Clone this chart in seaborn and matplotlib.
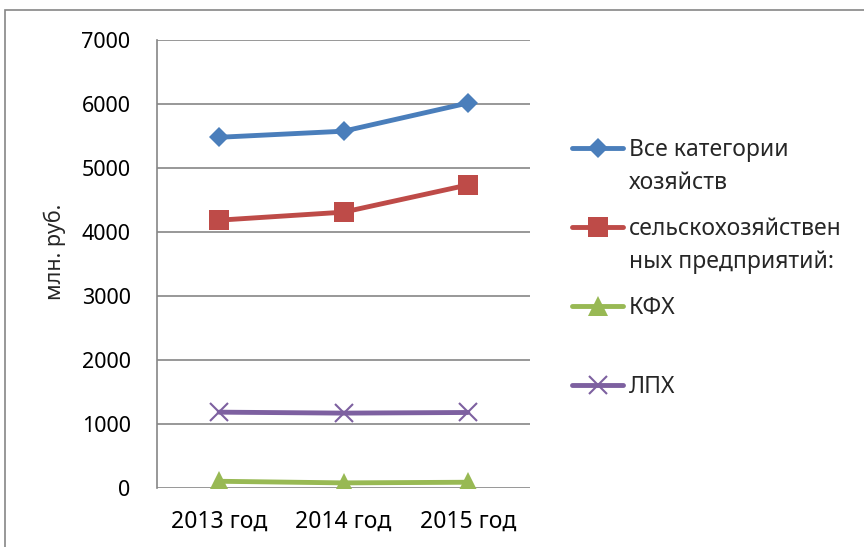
import numpy as np
import pandas as pd
import seaborn as sns
import matplotlib.pyplot as plt
from matplotlib.patches import Rectangle

years = ['2013 год', '2014 год', '2015 год']
vse = [5480, 5575, 6015]
selhoz = [4185, 4310, 4735]
kfh = [105, 80, 90]
lph = [1185, 1170, 1180]

labels = ['Все категории', 'сельскохозяйствен', 'КФХ', 'ЛПХ']
second_lines = ['хозяйств', 'ных предприятий:', '', '']
colors = ['#4A7EBB', '#BE4B48', '#98B954', '#7D60A0']
markers = ['D', 's', '^', 'x']
msizes = [10, 14, 14, 13]

sns.set_style('white')
plt.rcParams['font.family'] = ['Noto Sans', 'DejaVu Sans']

fig = plt.figure(figsize=(8.64, 5.47), dpi=100)
ax = fig.add_axes([157/864, 59/547, 373/864, 448/547])

fig.patches.append(Rectangle((5/864, -0.2), 1.2, 0.2 + 537/547, transform=fig.transFigure,
                             fill=False, edgecolor='#868686', linewidth=1.2, zorder=-1))

for vals, lab, col, mk, ms in zip([vse, selhoz, kfh, lph], labels, colors, markers, msizes):
    df = pd.DataFrame({'year': years, 'value': vals})
    sns.lineplot(data=df, x='year', y='value', ax=ax, color=col, marker=mk, markersize=ms,
                 linewidth=3.5, markeredgewidth=1.5 if mk == 'x' else 0,
                 markeredgecolor=col, label=lab, sort=False)

ax.set_xlim(-0.5, 2.5)
ax.set_ylim(0, 7000)
ax.set_yticks(np.arange(0, 7001, 1000))
ax.yaxis.grid(True, color='#868686', linewidth=1.2)
ax.xaxis.grid(False)
for s in ['top', 'right', 'bottom']:
    ax.spines[s].set_visible(False)
ax.spines['left'].set_color('#868686')
ax.spines['left'].set_linewidth(1.2)
ax.tick_params(axis='y', length=0, pad=19, labelsize=15.5, labelcolor='black')
ax.tick_params(axis='x', length=0, pad=16, labelsize=16.5, labelcolor='black')
ax.set_xlabel('')
ax.set_ylabel('млн. руб.', fontsize=15.5)
ax.yaxis.set_label_coords(-0.245, 0.527)

ax.get_legend().remove()
leg = fig.legend(handles=ax.get_lines(), labels=labels, loc='upper left',
                 bbox_to_anchor=(561/864, 1 - 127/547), frameon=False, fontsize=16.5,
                 handlelength=2.2, handletextpad=0.25, labelspacing=2.4, borderpad=0)

# second lines of the wrapped legend labels
fig.canvas.draw()
inv = fig.transFigure.inverted()
for txt, extra in zip(leg.get_texts(), second_lines):
    if extra:
        bb = txt.get_window_extent()
        x0, y0 = inv.transform((bb.x0, bb.y0 - 33))
        fig.text(x0, y0, extra, ha='left', va='bottom', fontsize=16.5)

fig.savefig('out.png', dpi=100)
